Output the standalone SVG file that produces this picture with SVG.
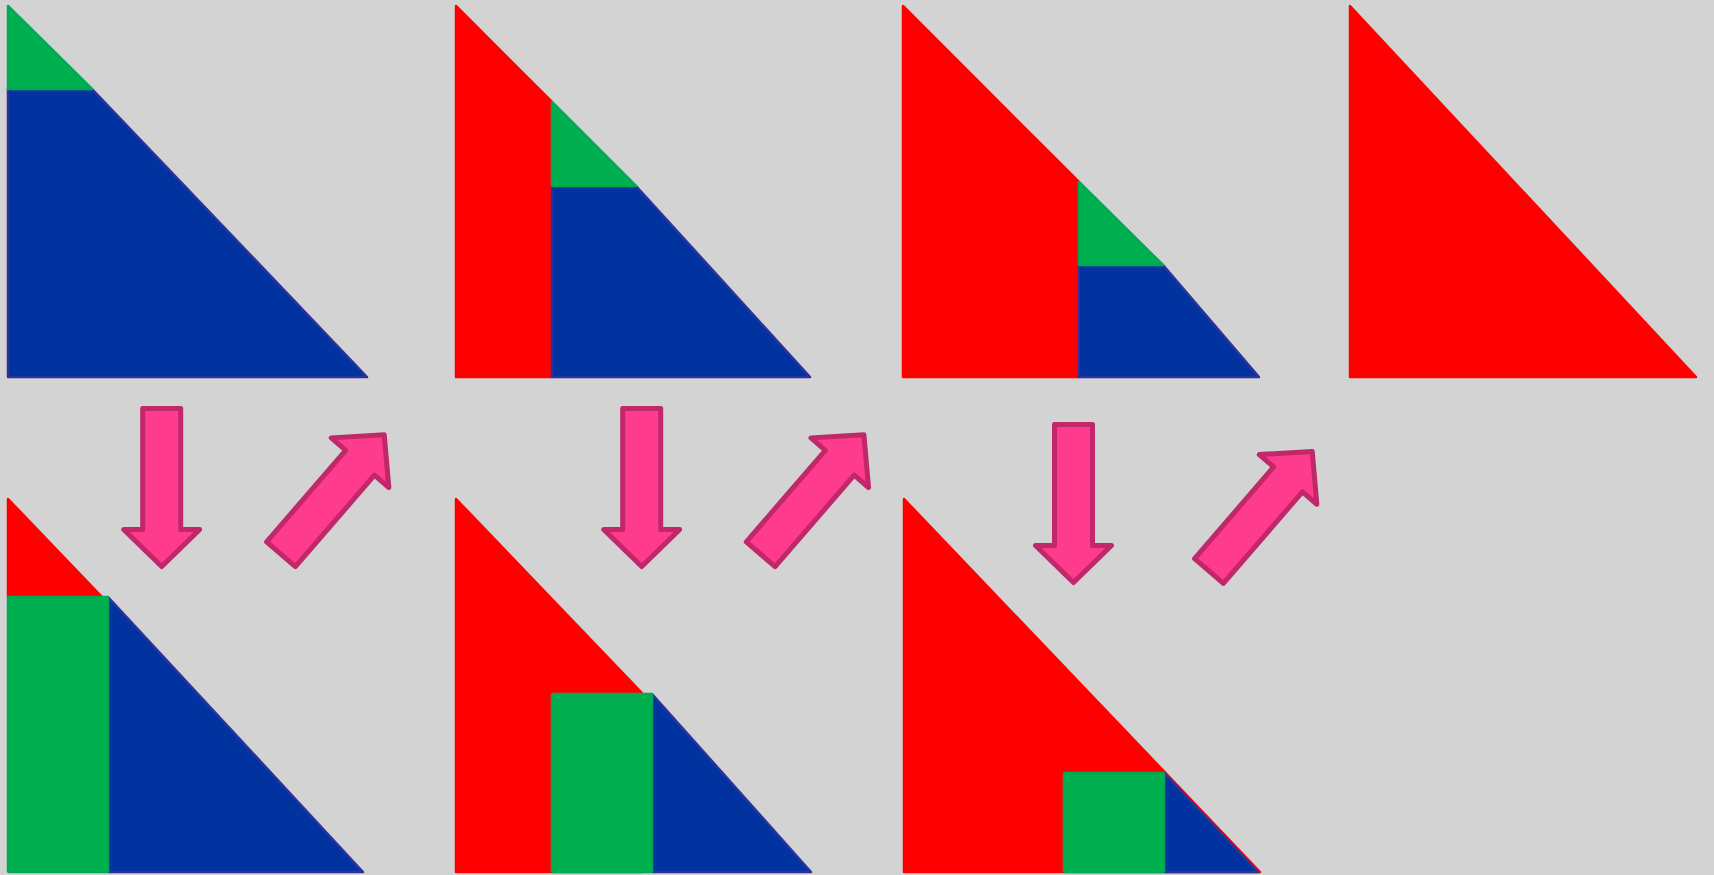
<svg xmlns="http://www.w3.org/2000/svg" width="1714" height="875" viewBox="0 0 1714 875">
<style>
.r{fill:#ff0000;stroke:#ff0000;stroke-width:2.5;stroke-linejoin:round}
.b{fill:#0033a0;stroke:#2a339c;stroke-width:2.5;stroke-linejoin:round}
.g{fill:#00b050;stroke:#00aa52;stroke-width:2.5;stroke-linejoin:round}
.ar{fill:#ff3b8d;stroke:#c0286a;stroke-width:5;stroke-linejoin:round}
</style>
<defs>
<path id="arr" d="M -19,0 L 19,0 L 19,121 L 38,121 L 0,158 L -38,121 L -19,121 Z"/>
</defs>
<rect width="1714" height="875" fill="#d3d3d3"/>
<g id="panel-1-top">
<polygon class="b" points="8,89 92,89 367,377 8,377"/>
<polygon class="g" points="8,6 92,89 8,89"/>
</g>
<g id="panel-1-bottom">
<polygon class="r" points="8,499 102,597 8,597"/>
<polygon class="b" points="108,597 363,872 108,872"/>
<rect class="g" x="8" y="597" width="100" height="275" rx="1"/>
</g>
<g id="panel-2-top">
<polygon class="r" points="456,6 552,102 552,377 456,377"/>
<polygon class="b" points="552,186 636,186 810,377 552,377"/>
<polygon class="g" points="552,102 636,186 552,186"/>
</g>
<g id="panel-2-bottom">
<polygon class="r" points="456,499 642,693 642,872 456,872"/>
<polygon class="b" points="652,694 811,872 652,872"/>
<rect class="g" x="552" y="694" width="100" height="178" rx="1"/>
</g>
<g id="panel-3-top">
<polygon class="r" points="903,6 1079,182 1079,377 903,377"/>
<polygon class="b" points="1079,265 1163,265 1259,377 1079,377"/>
<polygon class="g" points="1079,182 1163,265 1079,265"/>
</g>
<g id="panel-3-bottom">
<polygon class="r" points="904,499 1260,872 904,872"/>
<polygon class="b" points="1164,773 1258,872 1164,872"/>
<rect class="g" x="1064" y="773" width="100" height="99" rx="1"/>
</g>
<g id="panel-4-top">
<polygon class="r" points="1350,6 1696,377 1350,377"/>
</g>
<g id="connectors">
<use href="#arr" class="ar" transform="translate(161.7,408.5)"/>
<use href="#arr" class="ar" transform="translate(281,554.3) rotate(-139.2)"/>
<use href="#arr" class="ar" transform="translate(641.7,408.5)"/>
<use href="#arr" class="ar" transform="translate(760.7,554.3) rotate(-139.2)"/>
<use href="#arr" class="ar" transform="translate(1073.5,424.5)"/>
<use href="#arr" class="ar" transform="translate(1209,571) rotate(-139.2)"/>
</g>
</svg>
